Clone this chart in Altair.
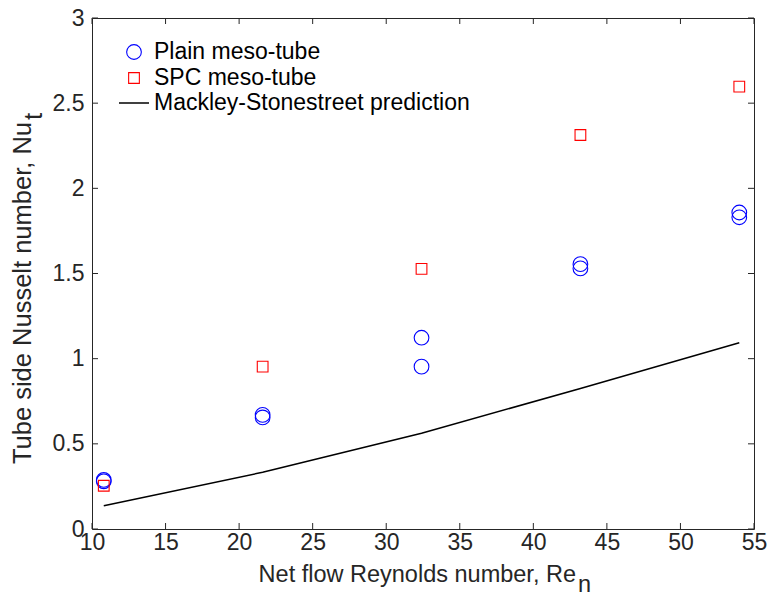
import altair as alt
import pandas as pd

# ---- data ----
re_vals = [10.8, 21.6, 32.4, 43.2, 54.0]
plain_a = [0.288, 0.670, 1.123, 1.555, 1.858]
plain_b = [0.280, 0.655, 0.953, 1.530, 1.830]
spc = [0.254, 0.953, 1.527, 2.313, 2.597]
mackley = [0.137, 0.333, 0.562, 0.825, 1.094]

x_ticks = [10, 15, 20, 25, 30, 35, 40, 45, 50, 55]
y_ticks = [0, 0.5, 1, 1.5, 2, 2.5, 3]
legend_labels = ["Plain meso-tube", "SPC meso-tube", "Mackley-Stonestreet prediction"]
x_title = "Net flow Reynolds number, Re"
x_sub = "n"
y_title = "Tube side Nusselt number, Nu"
y_sub = "t"

FONT = "Liberation Sans"
AX = "#262626"
W, H = 662, 511

plain_df = pd.DataFrame({"re": re_vals + re_vals, "nu": plain_a + plain_b})
spc_df = pd.DataFrame({"re": re_vals, "nu": spc})
ms_df = pd.DataFrame({"re": re_vals, "nu": mackley})
xt_df = pd.DataFrame({"v": x_ticks})
yt_df = pd.DataFrame({"v": y_ticks})

xs = alt.Scale(domain=[10, 55], nice=False, zero=False)
ys = alt.Scale(domain=[0, 3], nice=False, zero=False)

x_axis = alt.Axis(values=x_ticks, format="d", domain=False, ticks=False, grid=False,
                  labelFontSize=23, labelFont=FONT, labelColor=AX, labelPadding=2,
                  labelFlush=False, labelOverlap=False, title=None)
y_axis = alt.Axis(values=y_ticks, labelExpr="'' + datum.value", domain=False, ticks=False,
                  grid=False, labelFontSize=23, labelFont=FONT, labelColor=AX,
                  labelPadding=8, labelFlush=False, labelOverlap=False, title=None)

base_x = alt.X("re:Q", scale=xs, axis=x_axis)
base_y = alt.Y("nu:Q", scale=ys, axis=y_axis)

line = alt.Chart(ms_df).mark_line(color="black", strokeWidth=1.5).encode(x=base_x, y=base_y)
plain = alt.Chart(plain_df).mark_point(shape="circle", filled=False, color="#0000ff",
                                       size=216, strokeWidth=1.1, opacity=1).encode(x="re:Q", y="nu:Q")
spcm = alt.Chart(spc_df).mark_point(shape="square", filled=False, color="#ff0000",
                                    size=115, strokeWidth=1.1, opacity=1).encode(x="re:Q", y="nu:Q")

# inward ticks on all four sides
tk = dict(color=AX, strokeWidth=1)
xb = alt.Chart(xt_df).mark_rule(**tk).encode(x=alt.X("v:Q", scale=xs), y=alt.value(H), y2=alt.value(H - 6))
xtp = alt.Chart(xt_df).mark_rule(**tk).encode(x=alt.X("v:Q", scale=xs), y=alt.value(0), y2=alt.value(6))
yl = alt.Chart(yt_df).mark_rule(**tk).encode(y=alt.Y("v:Q", scale=ys), x=alt.value(0), x2=alt.value(6))
yr = alt.Chart(yt_df).mark_rule(**tk).encode(y=alt.Y("v:Q", scale=ys), x=alt.value(W), x2=alt.value(W - 6))

# legend
one = pd.DataFrame({"k": [0]})
leg_circle = alt.Chart(one).mark_point(shape="circle", filled=False, color="#0000ff", size=216,
                                       strokeWidth=1.1, opacity=1).encode(x=alt.value(42), y=alt.value(34))
leg_square = alt.Chart(one).mark_point(shape="square", filled=False, color="#ff0000", size=115,
                                       strokeWidth=1.1, opacity=1).encode(x=alt.value(42), y=alt.value(60))
leg_line = alt.Chart(one).mark_rule(color="black", strokeWidth=1.5).encode(
    x=alt.value(27), x2=alt.value(57), y=alt.value(85))
leg_texts = []
for lab, yy in zip(legend_labels, [34, 60, 85]):
    leg_texts.append(alt.Chart(pd.DataFrame({"t": [lab]})).mark_text(
        align="left", baseline="middle", font=FONT, fontSize=23, color="black").encode(
        text="t:N", x=alt.value(62), y=alt.value(yy)))

# axis titles with subscripts
def txt(s, size, **kw):
    return alt.Chart(pd.DataFrame({"t": [s]})).mark_text(font=FONT, fontSize=size, color=AX, **kw).encode(text="t:N")

xt_main = txt(x_title, 23.5, align="right", baseline="alphabetic").encode(x=alt.value(484), y=alt.value(564))
xt_sub = txt(x_sub, 23.5, align="left", baseline="alphabetic").encode(x=alt.value(486), y=alt.value(574))
yt_main = txt(y_title, 25.5, align="right", baseline="alphabetic", angle=270).encode(x=alt.value(-61), y=alt.value(104))
yt_sub = txt(y_sub, 25.5, align="left", baseline="alphabetic", angle=270).encode(x=alt.value(-50), y=alt.value(102))

chart = alt.layer(
    line, plain, spcm, xb, xtp, yl, yr,
    leg_circle, leg_square, leg_line, *leg_texts,
    xt_main, xt_sub, yt_main, yt_sub,
).properties(
    width=W, height=H,
    autosize=alt.AutoSizeParams(type="none"),
    padding={"left": 92, "top": 18, "right": 14, "bottom": 67},
    background="white",
).configure_view(stroke=AX, strokeWidth=1)

chart.save("out.html", embed_options={"renderer": "svg", "actions": False})
